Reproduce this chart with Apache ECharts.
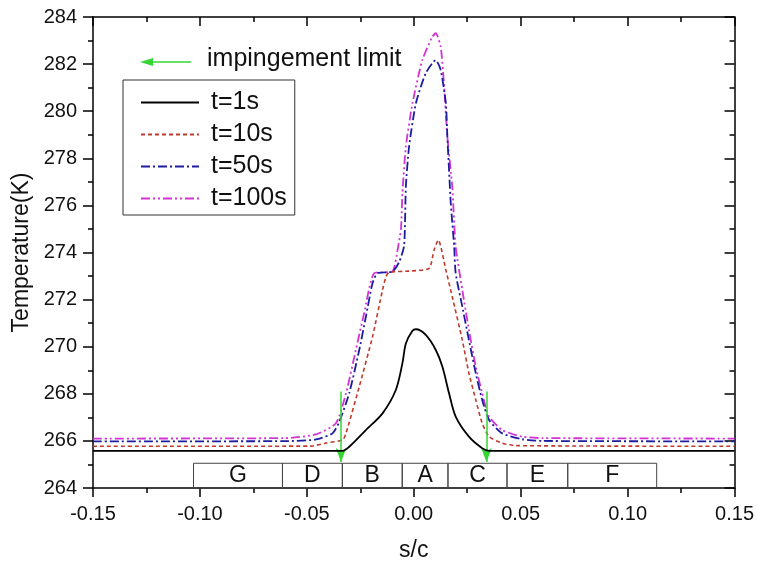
<!DOCTYPE html>
<html>
<head>
<meta charset="utf-8">
<script src="https://cdn.jsdelivr.net/npm/echarts@6/dist/echarts.min.js"></script>
<style>html,body{margin:0;padding:0;background:#fff}#c{width:757px;height:567px}</style>
</head>
<body>
<div id="c"></div>
<script>
// ---- data ----
const xTicks = [-0.15, -0.10, -0.05, 0.00, 0.05, 0.10, 0.15];
const yTicks = [264, 266, 268, 270, 272, 274, 276, 278, 280, 282, 284];

const t1X = [-0.15, -0.0333, -0.0302, -0.0224, -0.0146, -0.0084, -0.0053, -0.0037, -0.0006, 0.0010, 0.0056, 0.0103, 0.0134, 0.0165, 0.0196, 0.0258, 0.0320, 0.0352, 0.15];
const t1Y = [265.58, 265.58, 265.75, 266.46, 267.17, 268.16, 269.30, 270.14, 270.68, 270.74, 270.50, 269.86, 269.15, 268.02, 267.03, 266.18, 265.69, 265.58, 265.58];

const t10X = [-0.15, -0.048, -0.0411, -0.0333, -0.0317, -0.0255, -0.0193, -0.0146, -0.0130, -0.0115, -0.0022, 0.0072, 0.0095, 0.0115, 0.0150, 0.0180, 0.0227, 0.0258, 0.0290, 0.0320, 0.0352, 0.0414, 0.0476, 0.15];
const t10Y = [265.77, 265.78, 265.91, 266.04, 266.32, 268.30, 270.42, 272.41, 272.97, 273.16, 273.21, 273.33, 274.11, 274.53, 273.26, 272.12, 270.28, 268.87, 267.74, 266.75, 266.18, 265.90, 265.80, 265.77];

const t50X = [-0.15, -0.060, -0.0457, -0.0380, -0.0348, -0.0302, -0.0255, -0.0224, -0.0193, -0.0170, -0.0100, -0.0068, -0.0045, -0.0037, -0.0022, 0.0010, 0.0056, 0.0103, 0.0126, 0.0150, 0.0157, 0.0165, 0.0173, 0.0189, 0.0196, 0.0227, 0.0258, 0.0290, 0.0320, 0.0352, 0.0414, 0.0507, 0.060, 0.15];
const t50Y = [265.98, 265.99, 266.06, 266.32, 266.82, 268.02, 269.86, 271.27, 272.69, 273.12, 273.19, 273.60, 274.30, 276.80, 278.49, 280.34, 281.61, 282.17, 281.75, 280.34, 278.92, 277.50, 276.09, 274.25, 273.12, 271.70, 270.28, 268.87, 267.74, 266.89, 266.32, 266.07, 266.00, 265.98];

const t100X = [-0.15, -0.060, -0.0457, -0.0364, -0.0317, -0.0271, -0.0232, -0.0185, -0.0100, -0.0076, -0.0060, -0.0053, -0.0037, -0.0006, 0.0040, 0.0087, 0.0103, 0.0126, 0.0142, 0.0157, 0.0180, 0.0196, 0.0227, 0.0258, 0.0290, 0.0320, 0.0352, 0.0414, 0.0507, 0.060, 0.15];
const t100Y = [266.10, 266.12, 266.28, 266.75, 268.02, 269.86, 271.42, 273.12, 273.20, 274.10, 275.00, 276.51, 278.49, 280.34, 282.17, 283.16, 283.31, 282.74, 281.04, 278.92, 276.79, 274.25, 272.41, 270.71, 269.15, 268.02, 267.03, 266.46, 266.18, 266.12, 266.10];

const regionNames = ['G', 'D', 'B', 'A', 'C', 'E', 'F'];
const regionEdges = [-0.1030, -0.0614, -0.0334, -0.0054, 0.0160, 0.0436, 0.0720, 0.1136];
const regionBottom = 264;
const regionTop = 265.05;

const limitX = [-0.034, 0.034];
const limitFrom = 268.1;
const limitTo = 265.1;

const seriesNames = ['t=1s', 't=10s', 't=50s', 't=100s'];

// ---- chart ----
const FONT = '"Liberation Sans", Arial, sans-serif';
const pairs = (xs, ys) => xs.map((x, i) => [x, ys[i]]);

const chart = echarts.init(document.getElementById('c'), null, {renderer: 'canvas'});

const axisCommon = {
  axisLine: {show: true, onZero: false, lineStyle: {color: '#000', width: 1.5}},
  splitLine: {show: false}
};

const boxes = regionNames.map((n, i) => [
  {coord: [regionEdges[i], regionBottom], name: n},
  {coord: [regionEdges[i + 1], regionTop]}
]);

const option = {
  backgroundColor: '#fff',
  animation: false,
  textStyle: {fontFamily: FONT},
  grid: {left: 93, right: 21, top: 17, bottom: 78, containLabel: false},
  legend: {
    data: seriesNames,
    orient: 'vertical',
    left: 123, top: 80,
    itemWidth: 58, itemHeight: 14,
    itemGap: 7,
    padding: [10, 8, 4, 17],
    borderColor: '#333', borderWidth: 1,
    itemStyle: {opacity: 0},
    textStyle: {fontSize: 25, color: '#111', fontFamily: FONT, lineHeight: 25, padding: [0, 0, 0, 7]}
  },
  xAxis: [
    Object.assign({}, axisCommon, {
      type: 'value', position: 'bottom', min: -0.15, max: 0.15, interval: 0.05,
      name: 's/c', nameLocation: 'middle', nameGap: 51,
      nameTextStyle: {fontSize: 23, color: '#111', fontFamily: FONT},
      axisTick: {show: true, inside: false, length: 9, lineStyle: {color: '#000', width: 1.5}},
      minorTick: {show: true, splitNumber: 2, length: 5, lineStyle: {color: '#000', width: 1.5}},
      axisLabel: {fontSize: 20, color: '#111', margin: 16, fontFamily: FONT,
        formatter: v => (Math.abs(v) < 1e-9 ? 0 : v).toFixed(2)}
    }),
    Object.assign({}, axisCommon, {
      type: 'value', position: 'top', min: -0.15, max: 0.15, interval: 0.05,
      axisTick: {show: true, inside: true, length: 9, lineStyle: {color: '#000', width: 1.5}},
      minorTick: {show: true, splitNumber: 2, length: 5, lineStyle: {color: '#000', width: 1.5}},
      axisLabel: {show: false}
    })
  ],
  yAxis: [
    Object.assign({}, axisCommon, {
      type: 'value', position: 'left', min: 264, max: 284, interval: 2,
      name: 'Temperature(K)', nameLocation: 'middle', nameGap: 53,
      nameTextStyle: {fontSize: 23, color: '#111', fontFamily: FONT},
      axisTick: {show: true, inside: false, length: 10, lineStyle: {color: '#000', width: 1.5}},
      minorTick: {show: true, splitNumber: 2, length: 5, lineStyle: {color: '#000', width: 1.5}},
      axisLabel: {fontSize: 20, color: '#111', margin: 16, fontFamily: FONT}
    }),
    Object.assign({}, axisCommon, {
      type: 'value', position: 'right', min: 264, max: 284, interval: 2,
      axisTick: {show: true, inside: true, length: 10, lineStyle: {color: '#000', width: 1.5}},
      minorTick: {show: true, splitNumber: 2, length: 5, lineStyle: {color: '#000', width: 1.5}},
      axisLabel: {show: false}
    })
  ],
  series: [
    {
      name: seriesNames[0], type: 'line', data: pairs(t1X, t1Y), symbol: 'none', smooth: 0.3,
      lineStyle: {color: '#000', width: 1.8, type: 'solid'}, itemStyle: {color: '#000'}, z: 5,
      markArea: {
        silent: true,
        itemStyle: {color: 'rgba(0,0,0,0)', borderColor: '#444', borderWidth: 1},
        label: {show: true, position: 'inside', fontSize: 23, color: '#111', fontFamily: FONT},
        data: boxes
      },
      markLine: {
        silent: true, symbol: ['none', 'arrow'], symbolSize: [8, 14],
        label: {show: false},
        lineStyle: {color: '#33d633', width: 1.5, type: 'solid'},
        data: limitX.map(x => [{coord: [x, limitFrom]}, {coord: [x, limitTo]}])
      }
    },
    {
      name: seriesNames[1], type: 'line', data: pairs(t10X, t10Y), symbol: 'none', smooth: 0.2,
      lineStyle: {color: '#c0392b', width: 1.6, type: [4, 3]}, itemStyle: {color: '#c0392b'}, z: 4
    },
    {
      name: seriesNames[2], type: 'line', data: pairs(t50X, t50Y), symbol: 'none', smooth: 0.2,
      lineStyle: {color: '#1c1ca0', width: 1.8, type: [9, 3, 2, 3]}, itemStyle: {color: '#1c1ca0'}, z: 3
    },
    {
      name: seriesNames[3], type: 'line', data: pairs(t100X, t100Y), symbol: 'none', smooth: 0.2,
      lineStyle: {color: '#d433d4', width: 1.8, type: [9, 3, 2, 3, 2, 3]}, itemStyle: {color: '#d433d4'}, z: 2
    }
  ],
  graphic: [
    {type: 'line', shape: {x1: 150, y1: 62, x2: 191, y2: 62}, style: {stroke: '#33d633', lineWidth: 1.5}},
    {type: 'polygon', shape: {points: [[140, 62], [153, 58], [153, 66]]}, style: {fill: '#33d633'}},
    {type: 'text', left: 207, top: 47, style: {text: 'impingement limit', fontSize: 25, fill: '#111', fontFamily: FONT}}
  ]
};

chart.setOption(option);
</script>
</body>
</html>
